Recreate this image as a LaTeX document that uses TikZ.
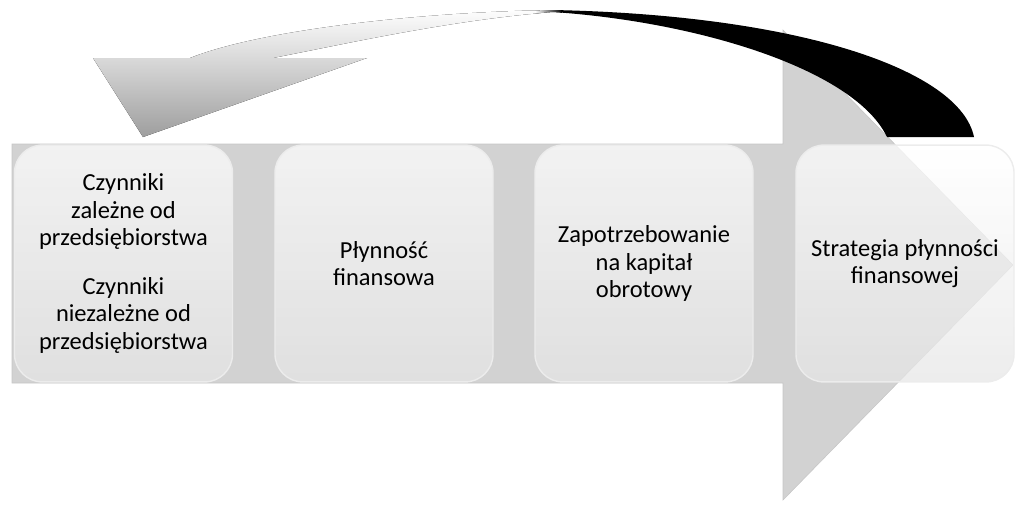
\documentclass[tikz,border=0pt]{standalone}
\usepackage{fontspec}
\setmainfont{Carlito}
\usepackage{tikz}

\begin{document}
\begin{tikzpicture}[x=0.025cm, y=-0.025cm,
    tile/.style={draw=gray!15, line width=1pt, rounded corners=0.7cm,
      top color=white, bottom color=gray!20, fill opacity=0.72, text opacity=1,
      minimum width=5.45cm, minimum height=5.92cm, align=center,
      font=\fontsize{17.4pt}{19.6pt}\selectfont}]
        \useasboundingbox (0,0) rectangle (1024,509);

        % big arrow
        \draw [draw=gray!45, line width=0.4pt, fill=gray!35]
              (12,144) -- (783,144) -- (783,30) -- (1013,265) -- (783,500)
              -- (783,383) -- (12,383) -- cycle;

        % curved arrow back
        \begin{scope}
          \clip (143,137) -- (93,58) -- (190,58)
                .. controls (260,30) and (420,12) .. (553,10)
                .. controls (800,15) and (960,70) .. (974,137)
                -- (887,137)
                .. controls (855,70) and (700,22) .. (553,12)
                .. controls (450,20) and (340,45) .. (273,58)
                -- (367,58) -- cycle;
          \fill [top color=white, bottom color=gray!78]   (80,8) rectangle (540,140);
          \fill [left color=white, right color=black]     (535,0) rectangle (562,140);
          \fill [black]                                   (561,0) rectangle (990,140);
        \end{scope}

        \node [tile] (factors)  at (123.5,263.5) {Czynniki\\zależne od\\przedsiębiorstwa\\[15pt]Czynniki\\niezależne od\\przedsiębiorstwa};
        \node [tile] (liquid)   at (384,263.5)   {Płynność\\finansowa};
        \node [tile] (capital)  at (644,263.5)   {Zapotrzebowanie\\na kapitał\\obrotowy};
        \node [tile] (strategy) at (905,263.5)   {Strategia płynności\\finansowej};
      \end{tikzpicture}
\end{document}
